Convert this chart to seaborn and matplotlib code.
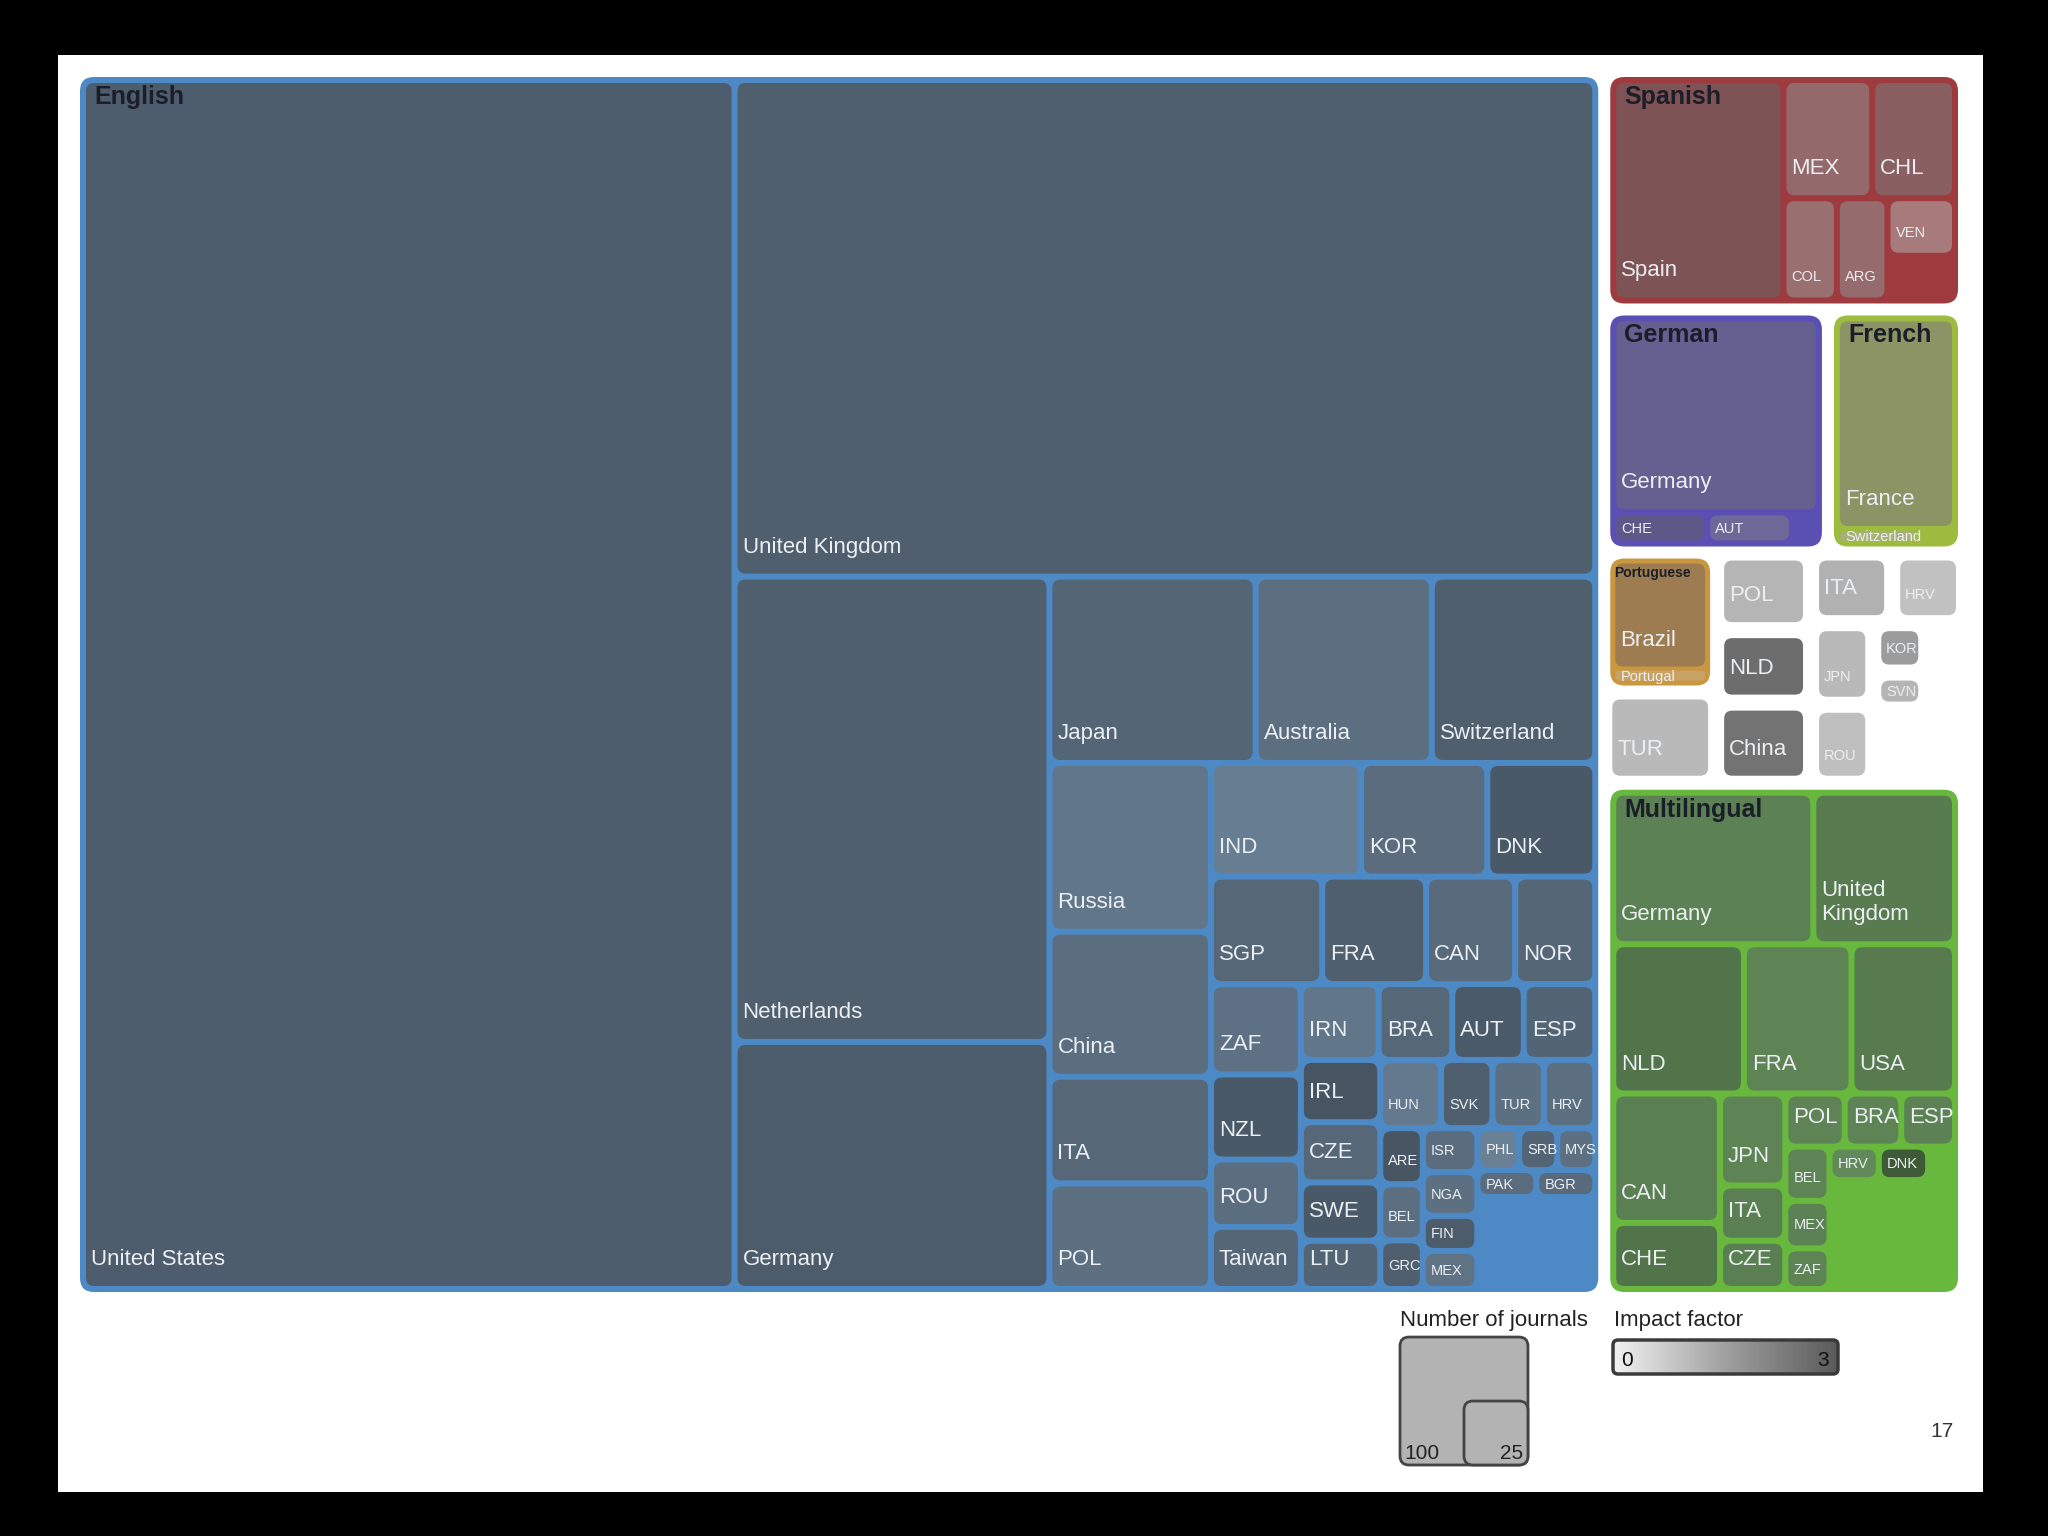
import numpy as np
import matplotlib.pyplot as plt
import seaborn as sns
from matplotlib.patches import FancyBboxPatch

# ---------------------------------------------------------
# Journals per publishing country, grouped by language
# (size = number of journals, shade = impact factor 0..3)
# ---------------------------------------------------------
english_countries = ["United States", "United Kingdom", "Netherlands", "Germany",
                     "Japan", "Australia", "Switzerland",
                     "Russia", "China", "ITA", "POL",
                     "IND", "KOR", "DNK",
                     "SGP", "FRA", "CAN", "NOR",
                     "ZAF", "NZL", "ROU", "Taiwan",
                     "IRN", "BRA", "AUT", "ESP",
                     "IRL", "CZE", "SWE", "LTU",
                     "HUN", "SVK", "TUR", "HRV",
                     "ARE", "BEL", "GRC",
                     "ISR", "NGA", "FIN", "MEX",
                     "PHL", "SRB", "MYS",
                     "PAK", "BGR"]
english_journals = [4941, 2681, 919, 488,
                    241, 206, 191,
                    171, 147, 108, 107,
                    107, 90, 77,
                    75, 70, 60, 54,
                    51, 48, 38, 35,
                    37, 35, 34, 34,
                    31, 30, 29, 24,
                    26, 22, 22, 22,
                    15, 15, 13,
                    15, 15, 12, 13,
                    11, 10, 10,
                    10, 10]
english_impact = [2.44, 2.39, 2.39, 2.49,
                  2.14, 1.73, 2.39,
                  1.42, 1.78, 2.03, 1.68,
                  1.17, 1.83, 2.64,
                  2.03, 2.39, 1.93, 2.08,
                  1.63, 2.64, 1.78, 2.08,
                  1.42, 2.03, 2.59, 2.19,
                  2.80, 2.03, 2.64, 2.19,
                  1.32, 2.39, 1.68, 1.73,
                  2.75, 1.73, 2.39,
                  1.83, 1.68, 2.49, 1.58,
                  1.02, 2.19, 1.68,
                  1.83, 1.93]
english_unshown = 68

spanish_countries = ["Spain", "MEX", "CHL", "COL", "ARG", "VEN"]
spanish_journals = [261, 73, 68, 38, 36, 27]
spanish_impact = [2.25, 1.33, 1.75, 1.08, 1.25, 0.54]
spanish_unshown = 21

german_countries = ["Germany", "CHE", "AUT"]
german_journals = [286, 21, 19]
german_impact = [1.9, 2.3, 1.5]
german_unshown = 6

french_countries = ["France", "Switzerland"]
french_journals = [189, 9]
french_impact = [1.7, 0.5]
french_unshown = 4

portuguese_countries = ["Brazil", "Portugal"]
portuguese_journals = [84, 11]
portuguese_impact = [1.8, 0.3]

# languages with a single country (grey), "" = too small to label
single_countries = ["TUR", "POL", "NLD", "China", "ITA", "HRV", "JPN", "ROU", "KOR", "SVN", ""]
single_journals = [63, 45, 42, 47, 35, 31, 31, 30, 16, 12, 24]
single_impact = [0.5, 0.6, 2.37, 2.22, 0.71, 0.3, 0.5, 0.35, 1.21, 0.6, 0.0]
single_unshown = 37

multi_countries = ["Germany", "United Kingdom", "NLD", "FRA", "USA", "CAN", "CHE",
                   "JPN", "ITA", "CZE", "POL", "BRA", "ESP", "BEL", "MEX", "ZAF",
                   "HRV", "DNK", ""]
multi_journals = [202, 143, 130, 107, 103, 92, 47, 40, 24, 21, 21, 20, 19, 16, 14, 12, 11, 11, 6]
multi_impact = [1.0, 1.25, 1.63, 0.88, 1.31, 1.13, 1.63, 0.88, 1.13, 1.13, 0.88, 0.88,
                1.0, 0.88, 1.0, 0.88, 0.63, 2.88, 0.0]
multi_unshown = 91

# ---------------------------------------------------------
# Layout: strips of (orientation, number of items), like a squarified treemap
# "v" = column on the left, "h" = row on top
# ---------------------------------------------------------
ENGLISH_STRIPS = [("v", 1), ("h", 1), ("v", 2), ("h", 3), ("v", 4), ("h", 3), ("h", 4),
                  ("v", 4), ("h", 4), ("v", 4), ("h", 4), ("v", 3), ("v", 4), ("h", 3), ("h", 2)]
SPANISH_STRIPS = [("v", 1), ("h", 2), ("v", 1), ("v", 1), ("h", 1)]
GERMAN_STRIPS = [("h", 1), ("v", 1), ("v", 1)]
FRENCH_STRIPS = [("h", 1), ("v", 1)]
PORTUGUESE_STRIPS = [("h", 1), ("h", 1)]
SINGLE_STRIPS = [("v", 2), ("v", 3), ("h", 2), ("v", 2), ("v", 3)]
MULTI_STRIPS = [("h", 2), ("h", 3), ("v", 2), ("v", 3), ("h", 3), ("v", 3), ("h", 3)]
TOP_STRIPS = [("v", 1), ("h", 1), ("h", 2), ("h", 1), ("h", 1)]

AREA = (74, 71, 1964, 1298)   # treemap frame in pixels
LABEL_FONT = "Liberation Sans"


def make_group(name, countries, journals, impact, unshown, strips, light, dark, bg,
               small=(), title_size=18, title_dy=27, pad=6, border=3, leaf_pad=3):
    cmap = sns.blend_palette([light, dark], as_cmap=True)
    leaves = [dict(label=c, value=v, impact=i) for c, v, i in zip(countries, journals, impact)]
    return dict(name=name, children=leaves, unshown=unshown, strips=strips, cmap=cmap, bg=bg,
                small=set(small), title_size=title_size, title_dy=title_dy,
                pad=pad, border=border, leaf_pad=leaf_pad)


def node_value(node):
    if "children" in node:
        return sum(node_value(c) for c in node["children"]) + node["unshown"]
    return node["value"]


def layout(values, total, strips, x0, y0, x1, y1):
    rects, i, left = [], 0, total
    for orient, n in strips:
        vals = values[i:i + n]
        s = sum(vals)
        if orient == "v":
            cut = x0 + (x1 - x0) * s / left
            y = y0
            for v in vals:
                h = (y1 - y0) * v / s
                rects.append((x0, y, cut, y + h))
                y += h
            x0 = cut
        else:
            cut = y0 + (y1 - y0) * s / left
            x = x0
            for v in vals:
                w = (x1 - x0) * v / s
                rects.append((x, y0, x + w, cut))
                x += w
            y0 = cut
        left -= s
        i += n
    return rects


def rounded(ax, x0, y0, x1, y1, r, color, z):
    w, h = x1 - x0, y1 - y0
    r = max(0.5, min(r, w / 2.5, h / 2.5))
    p = FancyBboxPatch((x0, y0), w, h, boxstyle=f"round,pad=0,rounding_size={r}",
                       fc=color, ec="none", zorder=z)
    ax.add_patch(p)
    return p


def draw_leaf(ax, leaf, g, x0, y0, x1, y1, renderer):
    p = g["leaf_pad"]
    x0, y0, x1, y1 = x0 + p, y0 + p, x1 - p, y1 - p
    rounded(ax, x0, y0, x1, y1, 8, g["cmap"](leaf["impact"] / 3), z=2)
    small = leaf["label"] in g["small"]
    fs = 10.5 if small else 16
    kw = dict(fontsize=fs, color="#eceff2", family=LABEL_FONT, ha="left", zorder=4,
              linespacing=1.2)
    if y1 - y0 < 40:
        t = ax.text(x0 + 5, (y0 + y1) / 2 + 1, leaf["label"], va="center", **kw)
    else:
        t = ax.text(x0 + 5, y1 - (13 if small else 16), leaf["label"], va="bottom", **kw)
    if " " in leaf["label"] and t.get_window_extent(renderer).width > (x1 - x0) - 8:
        t.set_text(leaf["label"].replace(" ", "\n"))


def draw_group(ax, g, x0, y0, x1, y1, renderer):
    p = g["pad"]
    x0, y0, x1, y1 = x0 + p, y0 + p, x1 - p, y1 - p
    if g["bg"]:
        rounded(ax, x0, y0, x1, y1, 14, g["bg"], z=1)
    b = g["border"]
    vals = [node_value(c) for c in g["children"]]
    rects = layout(vals, node_value(g), g["strips"], x0 + b, y0 + b, x1 - b, y1 - b)
    for child, r in zip(g["children"], rects):
        if "children" in child:
            draw_group(ax, child, *r, renderer)
        elif child["label"]:
            draw_leaf(ax, child, g, *r, renderer)
    if g["name"]:
        ax.text(x0 + 14 if g["title_size"] > 12 else x0 + 4, y0 + g["title_dy"], g["name"],
                fontsize=g["title_size"], fontweight="bold", color="#1b1e28",
                family=LABEL_FONT, va="baseline", zorder=5)


english = make_group("English", english_countries, english_journals, english_impact,
                     english_unshown, ENGLISH_STRIPS, "#7e99b2", "#43505d", "#4d89c5",
                     small=["HUN", "SVK", "TUR", "HRV", "ARE", "BEL", "GRC", "ISR", "NGA",
                            "FIN", "MEX", "PHL", "SRB", "MYS", "PAK", "BGR"])
spanish = make_group("Spanish", spanish_countries, spanish_journals, spanish_impact,
                     spanish_unshown, SPANISH_STRIPS, "#b48888", "#6c4246", "#9e3b3f",
                     small=["COL", "ARG", "VEN"])
german = make_group("German", german_countries, german_journals, german_impact,
                    german_unshown, GERMAN_STRIPS, "#8a86b8", "#4e4a78", "#5a4fb3",
                    small=["CHE", "AUT"])
french = make_group("French", french_countries, french_journals, french_impact,
                    french_unshown, FRENCH_STRIPS, "#b4bc80", "#6e7650", "#9dbb3e",
                    small=["Switzerland"])
portuguese = make_group("Portuguese", portuguese_countries, portuguese_journals,
                        portuguese_impact, 0, PORTUGUESE_STRIPS, "#d0a868", "#7a5e40",
                        "#c9973f", small=["Portugal"], title_size=10, title_dy=18,
                        leaf_pad=2)
single = make_group(None, single_countries, single_journals, single_impact, single_unshown,
                    SINGLE_STRIPS, "#cdcdcd", "#545454", None,
                    small=["HRV", "JPN", "KOR", "SVN", "ROU"], pad=0, border=0, leaf_pad=8)
single["children"].insert(0, portuguese)
multi = make_group("Multilingual", multi_countries, multi_journals, multi_impact,
                   multi_unshown, MULTI_STRIPS, "#6c9664", "#3c5834", "#67b83d",
                   small=["BEL", "MEX", "ZAF", "HRV", "DNK"])

top = dict(name=None, children=[english, spanish, german, french, single, multi],
           unshown=0, strips=TOP_STRIPS, bg=None, pad=0, border=0, leaf_pad=0,
           title_size=18, title_dy=0, small=set(), cmap=None)

# ---------------------------------------------------------
# Figure
# ---------------------------------------------------------
sns.set_theme(style="white")
plt.rcParams["font.family"] = [LABEL_FONT, "DejaVu Sans"]

fig = plt.figure(figsize=(20.48, 15.36), dpi=100, facecolor="black")
ax = fig.add_axes([0, 0, 1, 1])
ax.set_xlim(0, 2048)
ax.set_ylim(1536, 0)
ax.axis("off")
ax.add_patch(plt.Rectangle((58, 55), 1925, 1437, fc="white", ec="none", zorder=0))
renderer = fig.canvas.get_renderer()

draw_group(ax, top, *AREA, renderer)

# legend: number of journals (square sized on the same scale as the treemap)
px_per_journal = (AREA[2] - AREA[0]) * (AREA[3] - AREA[1]) / node_value(top)
ax.text(1400, 1326, "Number of journals", fontsize=16, color="#222222", va="baseline")
lx, ly = 1400, 1465
big_side = np.sqrt(100 * px_per_journal)
for n, z in [(100, 6), (25, 7)]:
    side = np.sqrt(n * px_per_journal)
    x_left = lx + big_side - side
    box = FancyBboxPatch((x_left, ly - side), side, side, boxstyle="round,pad=0,rounding_size=9",
                         fc="#b3b3b3", ec="#444444", lw=2, zorder=z)
    ax.add_patch(box)
    if n == 100:
        ax.text(x_left + 4, ly - 6, "100", fontsize=15, color="#222222", zorder=8)
    else:
        ax.text(x_left + side - 5, ly - 6, "25", fontsize=15, color="#222222", ha="right",
                zorder=8)

# legend: impact factor
ax.text(1614, 1326, "Impact factor", fontsize=16, color="#222222", va="baseline")
grad_cmap = sns.blend_palette(["#f2f2f2", "#a0a0a0", "#5a5a5a"], as_cmap=True)
bar = FancyBboxPatch((1613, 1340), 225, 34, boxstyle="round,pad=0,rounding_size=5",
                     fc="none", ec="#3a3a3a", lw=2.5, zorder=7)
ax.add_patch(bar)
im = ax.imshow(np.linspace(0, 3, 256)[None, :], cmap=grad_cmap, vmin=0, vmax=3,
               extent=[1613, 1838, 1374, 1340], aspect="auto", zorder=6)
im.set_clip_path(bar)
ax.text(1621, 1366, "0", fontsize=15, color="#111111", zorder=8)
ax.text(1829, 1366, "3", fontsize=15, color="#111111", ha="right", zorder=8)

ax.text(1930, 1437, "17", fontsize=15, color="#333333")

fig.savefig("out.png", dpi=100, facecolor="black")
